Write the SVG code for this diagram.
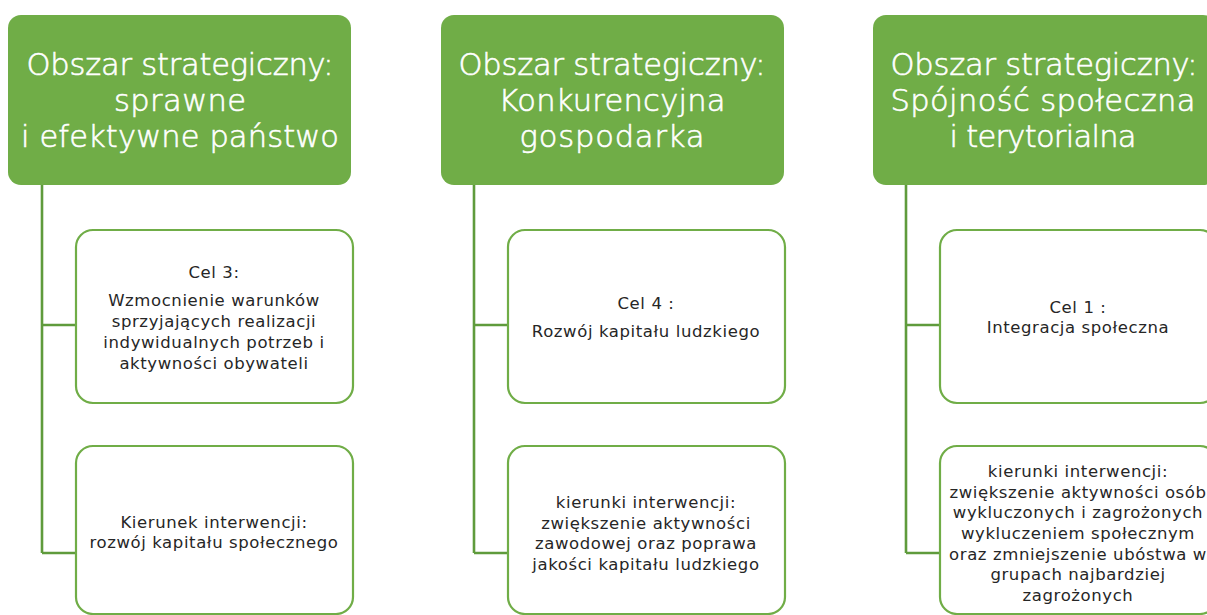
<svg xmlns="http://www.w3.org/2000/svg" width="1207" height="615" viewBox="0 0 1207 615">
<style>
.hdr{fill:#70AD47}
.child{fill:#fff;stroke:#70AD47;stroke-width:2.2}
.conn{fill:none;stroke:#5F9B3C;stroke-width:2.6}
.ht{font-family:"DejaVu Sans",sans-serif;font-weight:200;font-size:30.5px;fill:#fff;stroke:#fff;stroke-width:0.6;text-anchor:middle}
.ct{font-family:"DejaVu Sans",sans-serif;font-size:16.5px;letter-spacing:0.6px;fill:#262626;text-anchor:middle}
</style>
<rect width="1207" height="615" fill="#fff"/>
<g id="connectors">
<path class="conn" d="M42,185 V553 M42,325 H76 M42,553 H76"/>
<path class="conn" d="M474,185 V553 M474,325 H508 M474,553 H508"/>
<path class="conn" d="M906,185 V553 M906,325 H940 M906,553 H940"/>
</g>
<g id="h1">
<rect class="hdr" x="8" y="15" width="343" height="170" rx="13"/>
<text class="ht"><tspan x="180" y="75" textLength="307">Obszar strategiczny:</tspan><tspan x="180" y="111" textLength="132">sprawne</tspan><tspan x="180" y="147" textLength="318">i efektywne państwo</tspan></text>
</g>
<g id="h2">
<rect class="hdr" x="441" y="15" width="343" height="170" rx="13"/>
<text class="ht"><tspan x="612" y="75" textLength="307">Obszar strategiczny:</tspan><tspan x="612" y="111" textLength="227">Konkurencyjna</tspan><tspan x="612" y="147" textLength="185">gospodarka</tspan></text>
</g>
<g id="h3">
<rect class="hdr" x="873" y="15" width="343" height="170" rx="13"/>
<text class="ht"><tspan x="1044" y="75" textLength="307">Obszar strategiczny:</tspan><tspan x="1043" y="111" textLength="305">Spójność społeczna</tspan><tspan x="1043" y="147" textLength="187">i terytorialna</tspan></text>
</g>
<g id="c1a">
<rect class="child" x="76" y="230" width="277" height="173" rx="17"/>
<text class="ct"><tspan x="214" y="278">Cel 3:</tspan><tspan x="214" y="306">Wzmocnienie warunków</tspan><tspan x="214" y="327">sprzyjających realizacji</tspan><tspan x="214" y="348">indywidualnych potrzeb i</tspan><tspan x="214" y="369">aktywności obywateli</tspan></text>
</g>
<g id="c1b">
<rect class="child" x="76" y="446" width="277" height="168" rx="17"/>
<text class="ct"><tspan x="214" y="528">Kierunek interwencji:</tspan><tspan x="214" y="548">rozwój kapitału społecznego</tspan></text>
</g>
<g id="c2a">
<rect class="child" x="508" y="230" width="277" height="173" rx="17"/>
<text class="ct"><tspan x="646" y="309">Cel 4 :</tspan><tspan x="646" y="337">Rozwój kapitału ludzkiego</tspan></text>
</g>
<g id="c2b">
<rect class="child" x="508" y="446" width="277" height="168" rx="17"/>
<text class="ct"><tspan x="646" y="508">kierunki interwencji:</tspan><tspan x="646" y="529">zwiększenie aktywności</tspan><tspan x="646" y="549">zawodowej oraz poprawa</tspan><tspan x="646" y="570">jakości kapitału ludzkiego</tspan></text>
</g>
<g id="c3a">
<rect class="child" x="940" y="230" width="277" height="173" rx="17"/>
<text class="ct"><tspan x="1078" y="313">Cel 1 :</tspan><tspan x="1078" y="333">Integracja społeczna</tspan></text>
</g>
<g id="c3b">
<rect class="child" x="940" y="446" width="277" height="168" rx="17"/>
<text class="ct"><tspan x="1078" y="477">kierunki interwencji:</tspan><tspan x="1078" y="498">zwiększenie aktywności osób</tspan><tspan x="1078" y="518">wykluczonych i zagrożonych</tspan><tspan x="1078" y="539">wykluczeniem społecznym</tspan><tspan x="1078" y="560">oraz zmniejszenie ubóstwa w</tspan><tspan x="1078" y="580">grupach najbardziej</tspan><tspan x="1078" y="601">zagrożonych</tspan></text>
</g>
</svg>
